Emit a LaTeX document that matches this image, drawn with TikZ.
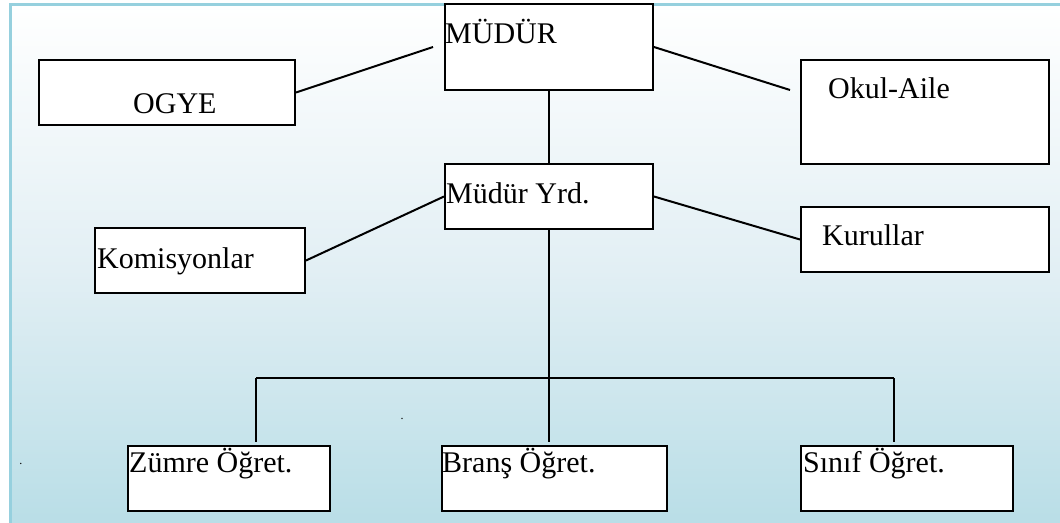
\documentclass[tikz,border=0pt]{standalone}
\usepackage{fontspec}
\setmainfont{Liberation Serif}
\usetikzlibrary{calc}
\definecolor{bgblue}{RGB}{183,221,230}
\definecolor{bgmid}{RGB}{226,239,244}
\definecolor{framecol}{RGB}{150,208,222}
\tikzset{
  orgbox/.style={draw=black, fill=white, line width=2pt, inner sep=0pt, anchor=north west},
  lbl/.style={anchor=base west, inner sep=0pt, font=\fontsize{30}{32}\selectfont},
  conn/.style={draw=black, line width=2pt},
  stray/.style={inner sep=0pt, font=\fontsize{12}{12}\selectfont}
}
\begin{document}
\begin{tikzpicture}[x=1pt,y=-1pt]
\useasboundingbox (0,0) rectangle (1060,522);
% background
\shade[top color=white, bottom color=bgblue, middle color=bgmid] (10,4) rectangle (1075,535);
\draw[framecol, line width=3pt] (10,540) -- (10,4) -- (1080,4);

% boxes
\node[orgbox, minimum width=208pt, minimum height=86pt] (mudur) at (444,3) {};
\node[orgbox, minimum width=256pt, minimum height=65pt] (ogye) at (38,59) {};
\node[orgbox, minimum width=248pt, minimum height=104pt] (okul) at (800,59) {};
\node[orgbox, minimum width=208pt, minimum height=65pt] (yrd) at (444,163) {};
\node[orgbox, minimum width=210pt, minimum height=65pt] (komis) at (94,227) {};
\node[orgbox, minimum width=248pt, minimum height=65pt] (kurul) at (800,206) {};
\node[orgbox, minimum width=202pt, minimum height=65pt] (zumre) at (127,445) {};
\node[orgbox, minimum width=225pt, minimum height=65pt] (brans) at (441,445) {};
\node[orgbox, minimum width=212pt, minimum height=65pt] (sinif) at (800,445) {};

% labels
\node[lbl] (tmudur) at (445,43) {MÜDÜR};
\node[lbl] (togye) at (133,113) {OGYE};
\node[lbl] (tokul) at (828,98) {Okul-Aile};
\node[lbl] (tyrd) at (446,203) {Müdür Yrd.};
\node[lbl] (tkomis) at (97,268) {Komisyonlar};
\node[lbl] (tkurul) at (822,245) {Kurullar};
\node[lbl] (tzumre) at (129,472) {Zümre Öğret.};
\node[lbl] (tbrans) at (442,472) {Branş Öğret.};
\node[lbl] (tsinif) at (803,472) {Sınıf Öğret.};

% stray dots
\node[stray] (dot1) at (21,464) {.};
\node[stray] (dot2) at (402,419) {.};

% connector free ends
\coordinate (ogyeEnd) at (433,47);
\coordinate (okulEnd) at (790,90);
\coordinate (barL) at (256,378);
\coordinate (barR) at (894,378);
\coordinate (junc) at (yrd.south |- barL);
\coordinate (dropL) at (256,442);
\coordinate (dropM) at (yrd.south |- 0,442);
\coordinate (dropR) at (894,442);

% connectors
\draw[conn] (ogye.east) -- (ogyeEnd);
\draw[conn] (mudur.east) -- (okulEnd);
\draw[conn] (mudur.south) -- (mudur.south |- yrd.north);
\draw[conn] (yrd.west) -- (komis.east);
\draw[conn] (yrd.east) -- (kurul.west);
\draw[conn] (yrd.south) -- (junc);
\draw[conn] (barL) -- (barR);
\draw[conn] (barL) -- (dropL);
\draw[conn] (junc) -- (dropM);
\draw[conn] (barR) -- (dropR);
\end{tikzpicture}
\end{document}
